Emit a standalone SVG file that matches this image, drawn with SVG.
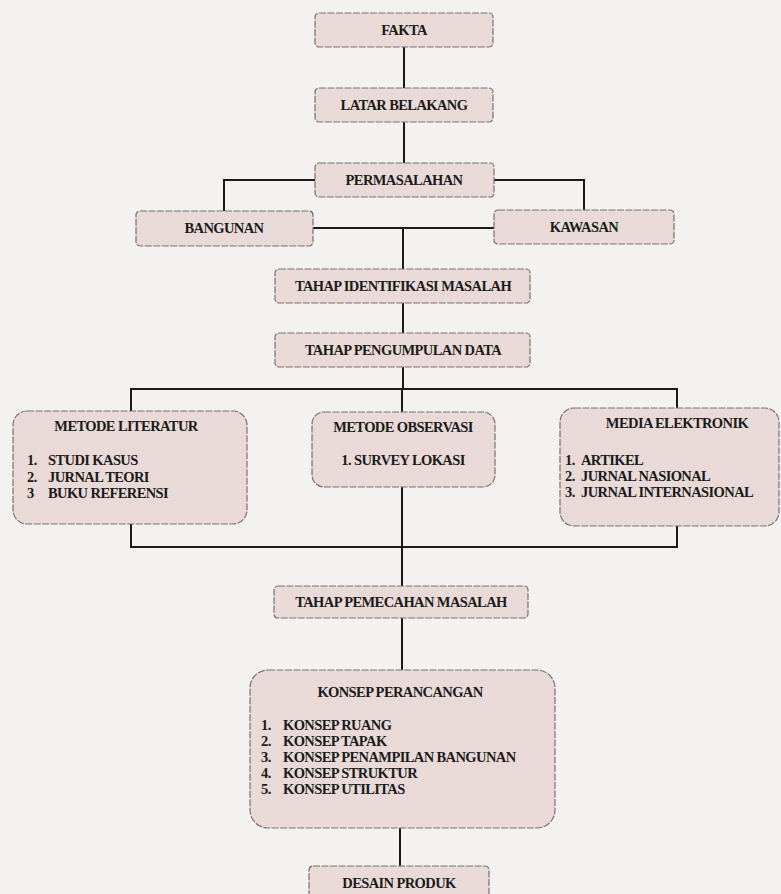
<svg xmlns="http://www.w3.org/2000/svg" width="781" height="894" viewBox="0 0 781 894">
<style>
.bg{fill:#f4f2f0}
.box{fill:#e9dad7;stroke:#7a7070;stroke-width:1.2;stroke-dasharray:7 1.5}
.t{font-family:"Liberation Serif","Times New Roman",serif;font-weight:bold;font-size:14.5px;fill:#1b1b1b;letter-spacing:-0.6px}
.c{text-anchor:middle}
.ln{fill:none;stroke:#1a1a1a;stroke-width:2}
</style>
<rect class="bg" x="0" y="0" width="781" height="894"/>
<g id="connectors">
<path class="ln" d="M404 46V88M404 122V163"/>
<path class="ln" d="M315 180H224V211M494 180H584V210"/>
<path class="ln" d="M313 228H494M403 228V269M403 303V333M403 367V389"/>
<path class="ln" d="M131 411V389H677V408M402 389V412"/>
<path class="ln" d="M131 524V547H677V526M402 487V586"/>
<path class="ln" d="M402 618V670M400 828V866"/>
</g>
<g id="fakta"><rect class="box" x="315" y="13" width="178" height="34" rx="4"/><text class="t c" x="404" y="35">FAKTA</text></g>
<g id="latar"><rect class="box" x="315" y="88" width="178" height="34" rx="4"/><text class="t c" x="404" y="110">LATAR BELAKANG</text></g>
<g id="permasalahan"><rect class="box" x="315" y="163" width="179" height="34" rx="4"/><text class="t c" x="404" y="185">PERMASALAHAN</text></g>
<g id="bangunan"><rect class="box" x="136" y="211" width="177" height="35" rx="4"/><text class="t c" x="224" y="233">BANGUNAN</text></g>
<g id="kawasan"><rect class="box" x="494" y="210" width="180" height="34" rx="4"/><text class="t c" x="584" y="232">KAWASAN</text></g>
<g id="identifikasi"><rect class="box" x="275" y="269" width="255" height="34" rx="4"/><text class="t c" x="403" y="291">TAHAP IDENTIFIKASI MASALAH</text></g>
<g id="pengumpulan"><rect class="box" x="275" y="333" width="255" height="34" rx="4"/><text class="t c" x="403" y="355">TAHAP PENGUMPULAN DATA</text></g>
<g id="literatur"><rect class="box" x="13" y="411" width="234" height="113" rx="14"/>
<text class="t c" x="126" y="431">METODE LITERATUR</text>
<text class="t" x="27" y="465">1.</text><text class="t" x="48" y="465">STUDI KASUS</text>
<text class="t" x="27" y="482">2.</text><text class="t" x="48" y="482">JURNAL TEORI</text>
<text class="t" x="27" y="498">3</text><text class="t" x="48" y="498">BUKU REFERENSI</text></g>
<g id="observasi"><rect class="box" x="312" y="412" width="183" height="75" rx="12"/>
<text class="t c" x="403" y="432">METODE OBSERVASI</text>
<text class="t c" x="403" y="465">1. SURVEY LOKASI</text></g>
<g id="elektronik"><rect class="box" x="560" y="408" width="219" height="118" rx="14"/>
<text class="t c" x="677" y="428">MEDIA ELEKTRONIK</text>
<text class="t" x="565" y="465">1.</text><text class="t" x="581" y="465">ARTIKEL</text>
<text class="t" x="565" y="481">2.</text><text class="t" x="581" y="481">JURNAL NASIONAL</text>
<text class="t" x="565" y="497">3.</text><text class="t" x="581" y="497">JURNAL INTERNASIONAL</text></g>
<g id="pemecahan"><rect class="box" x="274" y="586" width="254" height="32" rx="4"/><text class="t c" x="401" y="607">TAHAP PEMECAHAN MASALAH</text></g>
<g id="konsep"><rect class="box" x="250" y="670" width="305" height="158" rx="18"/>
<text class="t c" x="400" y="697">KONSEP PERANCANGAN</text>
<text class="t" x="261" y="730">1.</text><text class="t" x="283" y="730">KONSEP RUANG</text>
<text class="t" x="261" y="746">2.</text><text class="t" x="283" y="746">KONSEP TAPAK</text>
<text class="t" x="261" y="762">3.</text><text class="t" x="283" y="762">KONSEP PENAMPILAN BANGUNAN</text>
<text class="t" x="261" y="778">4.</text><text class="t" x="283" y="778">KONSEP STRUKTUR</text>
<text class="t" x="261" y="794">5.</text><text class="t" x="283" y="794">KONSEP UTILITAS</text></g>
<g id="desain"><rect class="box" x="309" y="866" width="180" height="36" rx="4"/><text class="t c" x="399" y="888">DESAIN PRODUK</text></g>
</svg>
